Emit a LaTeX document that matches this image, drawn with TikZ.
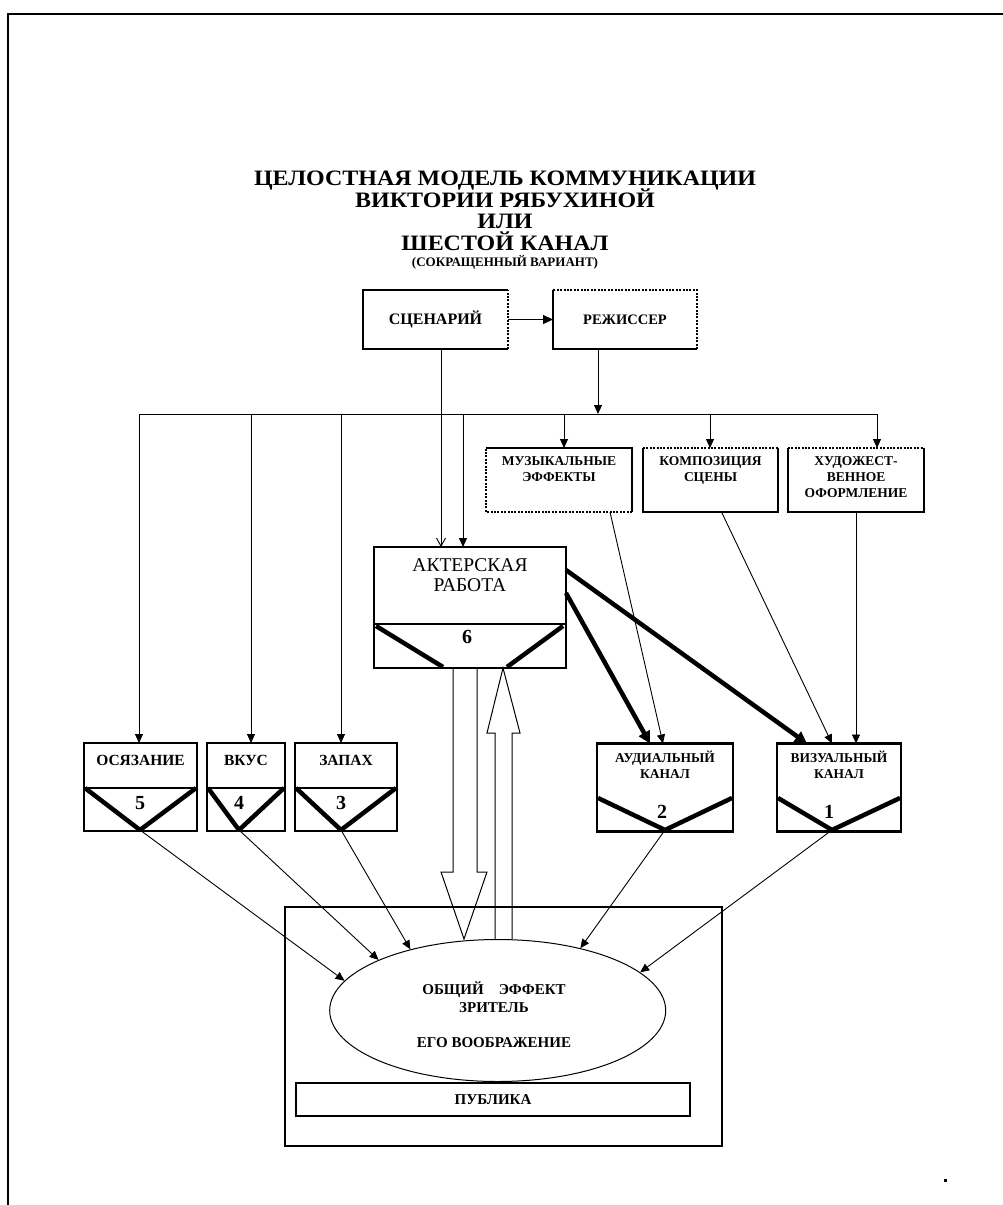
\documentclass[tikz,border=0pt]{standalone}
\usepackage{fontspec}
\setmainfont{Liberation Serif}
\usetikzlibrary{arrows.meta,positioning,shapes.geometric,calc}

\tikzset{
  frm/.style={line width=2.6pt},
  dotfrm/.style={line width=2.6pt, dash pattern=on 2pt off 1.4pt},
  box/.style={inner sep=0pt, outer sep=0pt},
  lbl/.style={font=\bfseries\fontsize{13.5}{16}\selectfont, align=center, inner sep=0pt},
  big/.style={font=\bfseries\fontsize{15.5}{18}\selectfont, align=center, inner sep=0pt},
  ttl/.style={font=\bfseries\fontsize{22}{22}\selectfont, inner sep=0pt, xscale=1.09, transform shape},
  num/.style={font=\bfseries\fontsize{20}{20}\selectfont, inner sep=0pt},
  thin/.style={line width=0.9pt},
  tip/.style={-{Triangle[length=9pt,width=8pt]}},
  fat/.style={line width=4.5pt, -{Triangle[length=12pt,width=12pt]}},
  vee/.style={line width=4.5pt, line join=bevel},
}

\begin{document}
\begin{tikzpicture}[x=1pt, y=-1pt]
  \useasboundingbox (0,0) rectangle (1003,1205);
  % page frame
  \draw[line width=2pt] (8,1205) -- (8,14) -- (1003,14);

  % title
  \foreach \ln/\yy [count=\k] in {ЦЕЛОСТНАЯ МОДЕЛЬ КОММУНИКАЦИИ/185.3, ВИКТОРИИ РЯБУХИНОЙ/207.3, ИЛИ/228.3, ШЕСТОЙ КАНАЛ/250.3}
    \node[ttl, anchor=base] (title-\k) at (505,\yy) {\ln};
  \node[font=\bfseries\fontsize{13}{13}\selectfont, inner sep=0pt, anchor=base] (title-5) at (505,266.5) {(СОКРАЩЕННЫЙ ВАРИАНТ)};

  % script and director
  \node[box, big, font=\bfseries\fontsize{16}{18}\selectfont, minimum width=145pt, minimum height=59pt] (scen) at (435.5,319.5) {СЦЕНАРИЙ};
  \draw[frm] (scen.north east) -- (scen.north west) -- (scen.south west) -- (scen.south east);
  \draw[dotfrm] (scen.south east) -- (scen.north east);
  \node[box, big, font=\bfseries\fontsize{14.5}{18}\selectfont, minimum width=144pt, minimum height=59pt] (rezh) at (625,319.5) {РЕЖИССЕР};
  \draw[frm] (rezh.north west) -- (rezh.south west) -- (rezh.south east);
  \draw[dotfrm] (rezh.south east) -- (rezh.north east) -- (rezh.north west);

  % staging boxes
  \node[box, minimum width=146pt, minimum height=64pt] (mus) at (559,480) {};
  \node[lbl, below=8pt of mus.north] (mus-t) {МУЗЫКАЛЬНЫЕ\\ ЭФФЕКТЫ};
  \draw[frm] (mus.north west) -- (mus.north east) -- (mus.south east);
  \draw[dotfrm] (mus.south east) -- (mus.south west) -- (mus.north west);
  \node[box, minimum width=135pt, minimum height=64pt] (komp) at (710.5,480) {};
  \node[lbl, below=8pt of komp.north] (komp-t) {КОМПОЗИЦИЯ\\ СЦЕНЫ};
  \draw[frm] (komp.north east) -- (komp.south east) -- (komp.south west) -- (komp.north west);
  \draw[dotfrm] (komp.north west) -- (komp.north east);
  \node[box, minimum width=136pt, minimum height=64pt] (hud) at (856,480) {};
  \node[lbl, below=8pt of hud.north] (hud-t) {ХУДОЖЕСТ-\\ ВЕННОЕ\\ ОФОРМЛЕНИЕ};
  \draw[frm] (hud.north east) -- (hud.south east) -- (hud.south west) -- (hud.north west);
  \draw[dotfrm] (hud.north west) -- (hud.north east);

  % acting
  \node[box, draw, frm, minimum width=192pt, minimum height=121pt] (act) at (470,607.5) {};
  \node[font=\fontsize{19.5}{20}\selectfont, align=center, inner sep=0pt, below=11pt of act.north] (act-t) {АКТЕРСКАЯ\\ РАБОТА};
  \draw[line width=1.3pt] (374,624) -- (566,624);
  \draw[vee] (376,626) -- (443,667);
  \draw[vee] (563,626) -- (507,667);
  \node[num] (act-n) at (467,637) {6};

  % senses
  \foreach \nm/\cx/\w/\tx/\lab/\num in {osj/140.5/113/140/ОСЯЗАНИЕ/5, vkus/246/78/239/ВКУС/4, zap/346/102/341/ЗАПАХ/3} {
    \node[box, draw, frm, minimum width=\w pt, minimum height=88pt] (\nm) at (\cx,787) {};
    \node[big, below=12pt of \nm.north] (\nm-t) {\lab};
    \draw[line width=1.3pt] ({\cx-\w/2},788) -- ({\cx+\w/2},788);
    \coordinate (\nm-tip) at (\tx,830);
    \draw[vee] ({\cx-\w/2+1},788) -- (\nm-tip) -- ({\cx+\w/2-1},788);
    \node[num] (\nm-n) at (\tx,803) {\num};
  }
  % channels
  \foreach \nm/\cx/\w/\tx/\lab/\num in {aud/665/136/665/{АУДИАЛЬНЫЙ\\ КАНАЛ}/2, viz/839/124/832/{ВИЗУАЛЬНЫЙ\\ КАНАЛ}/1} {
    \node[box, draw, frm, minimum width=\w pt, minimum height=88pt] (\nm) at (\cx,787.5) {};
    \node[lbl, below=7pt of \nm.north] (\nm-t) {\lab};
    \coordinate (\nm-tip) at (\tx,830);
    \draw[vee] ({\cx-\w/2+1},798) -- (\nm-tip) -- ({\cx+\w/2-1},798);
    \node[num] (\nm-n) at (\tx-3,812) {\num};
  }

  % audience
  \node[box, draw, line width=1.2pt, minimum width=437pt, minimum height=239pt] (frame) at (503.5,1026.5) {};
  \node[box, draw, line width=1.2pt, big, font=\bfseries\fontsize{15}{18}\selectfont, minimum width=394pt, minimum height=33pt] (pub) at (493,1099.5) {ПУБЛИКА};
  \node[ellipse, draw, line width=1pt, inner sep=0pt, minimum width=336pt, minimum height=142pt] (ell) at (497.7,1010.5) {};
  \node[big, font=\bfseries\fontsize{15}{18}\selectfont] (ell-t) at (494,1015)
    {ОБЩИЙ\quad ЭФФЕКТ\\ ЗРИТЕЛЬ\\[17pt] ЕГО ВООБРАЖЕНИЕ};

  % bus
  \coordinate (bl) at (139,414);
  \coordinate (br) at (877,414);
  \coordinate (bj) at (598,414);
  \draw[thin] (bl) -- (br);
  \draw[thin, -{Triangle[length=10pt,width=9pt]}] (scen.east) -- (rezh.west);
  \draw[thin, tip] (bj |- rezh.south) -- (bj);
  \foreach \xx/\tgt in {139/osj, 251/vkus, 341/zap, 463/act, 564/mus, 710/komp, 877/hud} {
    \coordinate (drop-\tgt) at (\xx,414);
    \draw[thin, tip] (drop-\tgt) -- (drop-\tgt |- \tgt.north);
  }
  \coordinate (sd) at (441,0);
  \draw[thin, -{Straight Barb[length=8pt,width=9pt]}] (sd |- scen.south) -- (sd |- act.north);

  % into channels
  \draw[fat] ($(act.north east)+(0,23)$) -- ($(viz.north)+(-32,0)$);
  \draw[fat] ($(act.north east)+(0,46)$) -- ($(aud.north)+(-15,0)$);
  \draw[thin, tip] ($(mus.south)+(51,0)$) -- ($(aud.north)+(-2,0)$);
  \draw[thin, tip] ($(komp.south)+(11,0)$) -- ($(viz.north)+(-7,0)$);
  \draw[thin, tip] (hud.south) -- (hud.south |- viz.north);

  % hollow arrows
  \draw[line width=1pt] (453,668) -- (453,872) -- (441,872) -- (464,939) -- (487,872) -- (477,872) -- (477,668);
  \draw[line width=1pt] (495,939) -- (495,733) -- (487,733) -- (503,668) -- (520,733) -- (512,733) -- (512,939);

  % into the viewer
  \draw[thin, tip] (osj-tip) -- (ell.169);
  \draw[thin, tip] (vkus-tip) -- (ell.157);
  \draw[thin, tip] (zap-tip) -- (ell.145);
  \draw[thin, tip] (aud-tip) -- (ell.37);
  \draw[thin, tip] (viz-tip) -- (ell.15);

  \fill (944,1179) rectangle (946.5,1181.5);
\end{tikzpicture}
\end{document}
